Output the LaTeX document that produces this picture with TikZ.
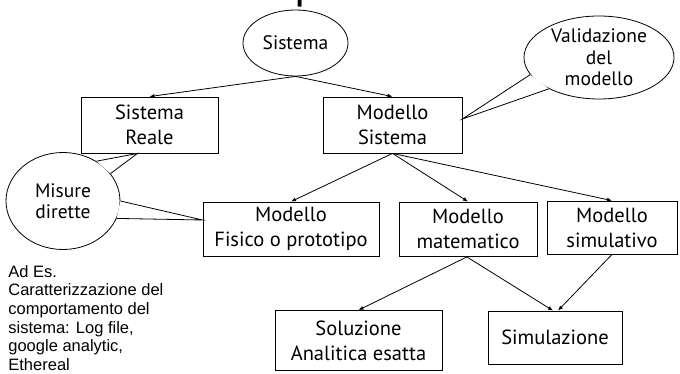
\documentclass[tikz,border=0pt]{standalone}
\usepackage{fontspec}
\setmainfont{PT Sans}
\newfontfamily\notefont{Liberation Sans}
\usetikzlibrary{shapes.geometric,arrows.meta}

\begin{document}
\begin{tikzpicture}[x=1pt, y=-1pt, line width=0.8pt,
    box/.style={draw, rectangle, align=center, inner sep=0pt,
        font=\fontsize{20.5}{25}\selectfont},
    bubble/.style={draw, ellipse, inner sep=0pt},
    bubbletext/.style={align=center, inner sep=0pt,
        font=\fontsize{19.5}{21.5}\selectfont},
    arr/.style={-{Latex[length=5pt,width=4pt]}}]
    \useasboundingbox (0,0) rectangle (680,374);
    \begin{scope}
    \clip (0,0) rectangle (680,374);
    % Title (cut off at the top)
    \node[anchor=base west, inner sep=0pt, font=\fontsize{48}{48}\selectfont] (title) at (294,-2) {p};
    \end{scope}

    % Root and first level
    \node[bubble, minimum width=105, minimum height=66] (sist) at (295.5,43) {};
    \node[bubbletext] (sisttext) at (sist) {Sistema};
    \node[box, minimum width=137, minimum height=56] (reale) at (149.5,125) {Sistema\\Reale};
    \node[box, minimum width=139, minimum height=56] (modsis) at (392.5,125) {Modello\\Sistema};

    % Models
    \node[box, minimum width=176, minimum height=54] (fisico) at (291,229) {Modello\\Fisico o prototipo};
    \node[box, minimum width=138, minimum height=54] (matem) at (468,229) {Modello\\matematico};
    \node[box, minimum width=130, minimum height=53] (simul) at (612,227.5) {Modello\\simulativo};

    % Solutions
    \node[box, minimum width=167, minimum height=60] (soluz) at (358.5,340.5) {Soluzione\\Analitica esatta};
    \node[box, minimum width=134, minimum height=53] (simz) at (555,337.5) {Simulazione};

    % Arrows
    \draw[arr] (sist.south) -- (reale.north);
    \draw[arr] (sist.south) -- (modsis.north);
    \draw[arr] (modsis.south) -- (fisico.north);
    \draw[arr] (modsis.south) -- (matem.north);
    \draw[arr] (modsis.south) -- (simul.north);
    \draw[arr] (matem.south) -- (soluz.north);
    \draw[arr] ([xshift=-2pt]matem.south) -- ([xshift=-2pt]simz.north);
    \draw[arr] (simul.south) -- ([xshift=3pt]simz.north);

    % Callout: validation
    \node[bubble, minimum width=150, minimum height=83] (valid) at (599,57.5) {};
    \node[bubbletext] (validtext) at (valid) {Validazione\\del\\modello};
    \coordinate (validtip) at ([yshift=6pt]modsis.east);
    \fill[white] (valid.194) -- (validtip) -- (valid.212) -- cycle;
    \draw (valid.194) -- (validtip) -- (valid.212);

    % Callout: direct measures
    \node[bubble, minimum width=114, minimum height=97] (misure) at (63,201) {};
    \node[bubbletext] (misuretext) at (misure) {Misure\\dirette};
    \coordinate (realetip) at ([xshift=-12pt]reale.south);
    \coordinate (fisicotip) at ([yshift=9pt]fisico.west);
    \fill[white] (misure.50) -- (realetip) -- (misure.30) -- cycle;
    \draw (misure.50) -- (realetip) -- (misure.30);
    \fill[white] (misure.0) -- (fisicotip) -- (misure.-18) -- cycle;
    \draw (misure.0) -- (fisicotip) -- (misure.-18);

    % Note
    \node[anchor=north west, align=left, inner sep=0pt,
        font=\notefont\fontsize{16.5}{18.6}\selectfont] (note) at (8,265)
        {Ad Es.\\Caratterizzazione del\\comportamento del\\sistema: Log file,\\google analytic,\\Ethereal};
\end{tikzpicture}
\end{document}
